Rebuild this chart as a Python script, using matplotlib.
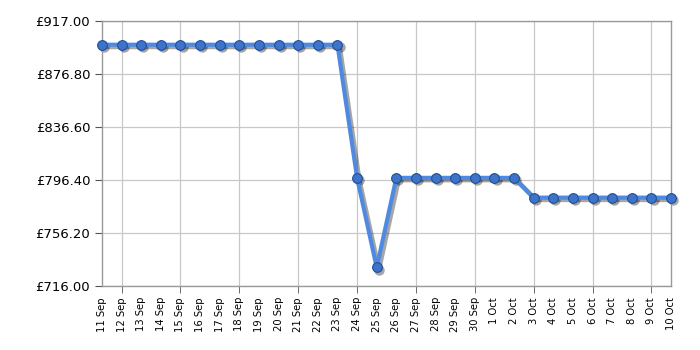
import matplotlib
matplotlib.use("Agg")
import matplotlib.pyplot as plt
import matplotlib.transforms as mtransforms

# daily prices, 11 Sep - 10 Oct
dates = ["11 Sep", "12 Sep", "13 Sep", "14 Sep", "15 Sep", "16 Sep", "17 Sep",
         "18 Sep", "19 Sep", "20 Sep", "21 Sep", "22 Sep", "23 Sep", "24 Sep",
         "25 Sep", "26 Sep", "27 Sep", "28 Sep", "29 Sep", "30 Sep", "1 Oct",
         "2 Oct", "3 Oct", "4 Oct", "5 Oct", "6 Oct", "7 Oct", "8 Oct", "9 Oct",
         "10 Oct"]
prices = [899, 899, 899, 899, 899, 899, 899, 899, 899, 899, 899, 899, 899,
          798, 730, 798, 798, 798, 798, 798, 798, 798,
          783, 783, 783, 783, 783, 783, 783, 783]
y_ticks = [716.00, 756.20, 796.40, 836.60, 876.80, 917.00]

fig = plt.figure(figsize=(7, 3.5), dpi=100)
ax = fig.add_axes([0.1457, 0.183, 0.813, 0.757])

x = list(range(len(dates)))

# soft drop shadow under the line
shadow_tr = mtransforms.offset_copy(ax.transData, fig=fig, x=1.5, y=-1.5, units="points")
ax.plot(x, prices, color="#000000", alpha=0.35, linewidth=3.5, zorder=2,
        marker="o", markersize=7.5, markeredgewidth=0,
        transform=shadow_tr, clip_on=False)
ax.plot(x, prices, color="#4f8ae0", linewidth=3, zorder=3,
        marker="o", markersize=7, markerfacecolor="#3d74c9",
        markeredgecolor="#1f4f99", markeredgewidth=0.8, clip_on=False)

ax.set_xlim(0, len(dates) - 1)
ax.set_ylim(y_ticks[0], y_ticks[-1])
ax.set_yticks(y_ticks)
ax.set_yticklabels(["£%.2f" % v for v in y_ticks], fontsize=9.5)

# labels on every day, tick marks + grid every 3 days from 12 Sep
ax.xaxis.remove_overlapping_locs = False
ax.set_xticks(x)
ax.set_xticklabels(dates, rotation=90, fontsize=7.2)
ax.set_xticks(list(range(1, len(dates), 3)), minor=True)
ax.tick_params(axis="x", which="major", length=0, pad=8)
ax.tick_params(axis="x", which="minor", length=5, color="#555555", direction="out")
ax.tick_params(axis="y", length=5, color="#555555", direction="out")

ax.grid(True, axis="y", which="major", color="#c8c8c8", linewidth=0.9)
ax.grid(True, axis="x", which="minor", color="#c8c8c8", linewidth=0.9)
for s in ax.spines.values():
    s.set_color("#999999")
    s.set_linewidth(1)

fig.savefig("out.png", dpi=100)
